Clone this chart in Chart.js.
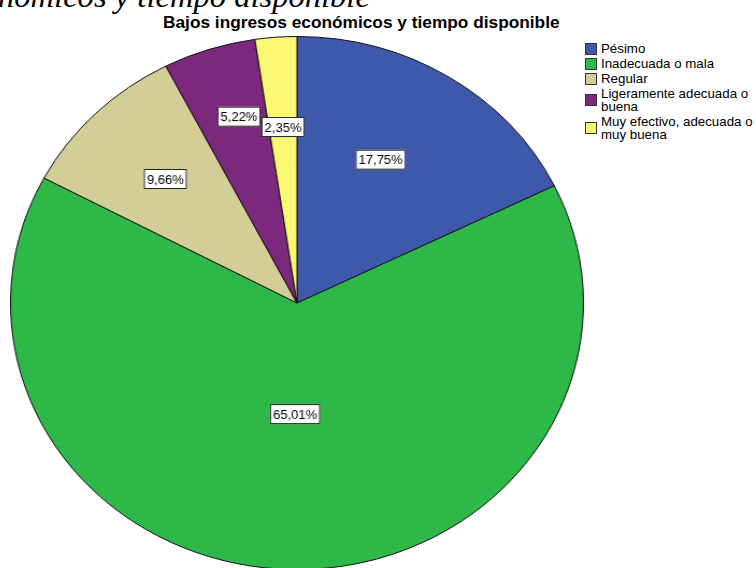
<!DOCTYPE html>
<html lang="es">
<head>
  <meta charset="UTF-8">
  <title>Bajos ingresos económicos y tiempo disponible</title>
  <script src="https://cdn.jsdelivr.net/npm/chart.js"></script>
  <style>
    html, body {
      margin: 0;
      padding: 0;
      background: #fff;
      width: 756px;
      height: 568px;
      overflow: hidden;
      position: relative;
    }
    #cabecera {
      position: absolute;
      left: -2px;
      top: -20px;
      font-family: "Liberation Serif", "Times New Roman", serif;
      font-style: italic;
      font-size: 32.6px;
      line-height: 32px;
      white-space: nowrap;
      color: #000;
    }
    #titulo {
      position: absolute;
      left: 163px;
      top: 12px;
      font-family: "Liberation Sans", Arial, sans-serif;
      font-weight: bold;
      font-size: 17.3px;
      white-space: nowrap;
      color: #000;
    }
    #torta {
      position: absolute;
      left: 30px;
      top: 36px;
      transform: scaleX(1.075);
      transform-origin: 267px 267px;
    }
    #leyenda {
      position: absolute;
      left: 585px;
      top: 42px;
      font-family: "Liberation Sans", Arial, sans-serif;
      font-size: 13.3px;
      line-height: 13px;
      color: #000;
    }
    .item {
      display: flex;
      align-items: center;
      margin-bottom: 2px;
    }
    .cuadro {
      width: 10px;
      height: 10px;
      border: 1px solid #333;
      margin-right: 4px;
      flex: none;
    }
    .texto {
      width: 162px;
    }
  </style>
</head>
<body>

  <div id="cabecera">nómicos y tiempo disponible</div>
  <div id="titulo">Bajos ingresos económicos y tiempo disponible</div>
  <canvas id="torta" width="534" height="534"></canvas>
  <div id="leyenda"></div>

  <script>
    const categorias = ['Pésimo', 'Inadecuada o mala', 'Regular', 'Ligeramente adecuada o buena', 'Muy efectivo, adecuada o muy buena'];
    const porcentajes = [17.75, 65.01, 9.66, 5.22, 2.35];
    const colores = ['#3E58AC', '#2EB848', '#D3CE97', '#7C287D', '#FBF873'];

    // posición de las etiquetas dentro de cada porción (fracción del radio / del ángulo)
    const etiquetaRadio = [0.612, 0.417, 0.654, 0.728, 0.662];
    const etiquetaAngulo = [0.446, 0.5, 0.5, 0.59, 0.5];
    const ESTIRAR = 1.075;

    // Etiquetas con recuadro blanco
    const pluginEtiquetas = {
      id: 'etiquetas',
      afterDatasetsDraw(chart) {
        const ctx = chart.ctx;
        const arcos = chart.getDatasetMeta(0).data;
        arcos.forEach((arco, i) => {
          const p = arco.getProps(['x', 'y', 'startAngle', 'endAngle', 'outerRadius'], true);
          const ang = p.startAngle + etiquetaAngulo[i] * (p.endAngle - p.startAngle);
          const r = etiquetaRadio[i] * p.outerRadius;
          const px = p.x + Math.cos(ang) * r;
          const py = p.y + Math.sin(ang) * r;
          const texto = porcentajes[i].toFixed(2).replace('.', ',') + '%';

          ctx.save();
          ctx.translate(px, py);
          ctx.scale(1 / ESTIRAR, 1);
          ctx.font = '13px "Liberation Sans", Arial, sans-serif';
          const w = ctx.measureText(texto).width + 6;
          const h = 20;
          ctx.fillStyle = '#fff';
          ctx.fillRect(-w / 2, -h / 2, w, h);
          ctx.strokeStyle = '#222';
          ctx.lineWidth = 1;
          ctx.strokeRect(-w / 2 + 0.5, -h / 2 + 0.5, w - 1, h - 1);
          ctx.fillStyle = '#000';
          ctx.textAlign = 'center';
          ctx.textBaseline = 'middle';
          ctx.fillText(texto, 0, 1);
          ctx.restore();
        });
      }
    };

    const ctx = document.getElementById('torta').getContext('2d');
    const grafico = new Chart(ctx, {
      type: 'pie',
      data: {
        labels: categorias,
        datasets: [{
          data: porcentajes,
          backgroundColor: colores,
          borderColor: '#111',
          borderWidth: 1
        }]
      },
      options: {
        responsive: false,
        animation: false,
        layout: { padding: 0 },
        plugins: {
          legend: { display: false },
          title: { display: false },
          tooltip: { enabled: false }
        }
      },
      plugins: [pluginEtiquetas]
    });

    // Leyenda
    const leyenda = document.getElementById('leyenda');
    categorias.forEach((cat, i) => {
      const item = document.createElement('div');
      item.className = 'item';
      const cuadro = document.createElement('div');
      cuadro.className = 'cuadro';
      cuadro.style.background = colores[i];
      const texto = document.createElement('div');
      texto.className = 'texto';
      texto.textContent = cat;
      item.appendChild(cuadro);
      item.appendChild(texto);
      leyenda.appendChild(item);
    });
  </script>
</body>
</html>
